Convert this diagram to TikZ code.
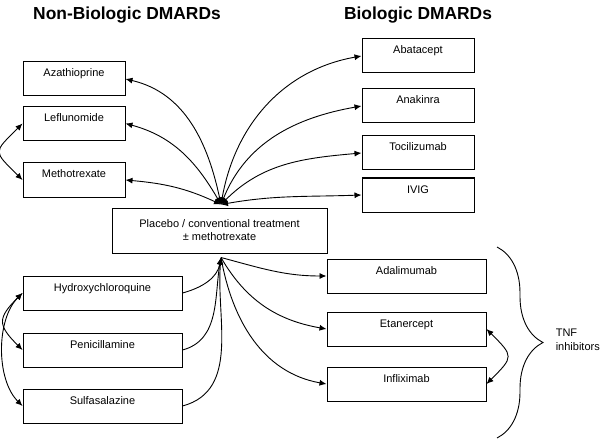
\documentclass[tikz,border=0pt]{standalone}
\usepackage{fontspec}
\setmainfont{Liberation Sans}
\usetikzlibrary{arrows.meta,positioning,decorations.pathreplacing,calc}
\tikzset{
  drug/.style  = { draw, line width=1pt, inner xsep=0pt, inner ysep=0pt,
    text height=15pt, text depth=19pt, minimum width=#1,
    font=\fontsize{11}{13}\selectfont },
  drug/.default = 102pt,
  ctrl/.style  = { draw, line width=1pt, align=center, inner sep=0pt,
    minimum width=215pt, minimum height=45pt, font=\fontsize{11}{13}\selectfont },
  grp/.style   = { font=\fontsize{17.4}{20}\selectfont\bfseries },
  tnfbrace/.style = { decorate, decoration={brace, amplitude=46pt}, line width=0.9pt }
}

\begin{document}
\begin{tikzpicture}[x=1pt,y=1pt,on grid,>={Latex[length=7pt,width=6pt]},line width=0.9pt]
    \useasboundingbox (0,0) rectangle (600,440);
    % group titles
    \node[grp] (nbio) at (127,425) {Non-Biologic DMARDs};
    \node[grp] (bio) at (418,425) {Biologic DMARDs};
    % comparator
    \node[ctrl] (plac) at (219.5,209.5) {Placebo / conventional treatment\\± methotrexate};
    \coordinate (hubT) at ([xshift=1.5pt,yshift=3pt]plac.north);
    \coordinate (hubB) at ([xshift=1.5pt,yshift=-4pt]plac.south);
    % non-biologic
    \node[drug] (aza) at (74,361) {Azathioprine};
    \node[drug, below=44.5pt of aza] (lef) {Leflunomide};
    \node[drug, below=56.5pt of lef] (met) {Methotrexate};
    \node[drug=159pt] (hyd) at (102.5,147) {Hydroxychloroquine};
    \node[drug=159pt, below=57pt of hyd] (pen) {Penicillamine};
    \node[drug=159pt, below=56pt of pen] (sul) {Sulfasalazine};
    % biologic
    \node[drug=112pt] (aba) at (418,384) {Abatacept};
    \node[drug=112pt, below=50pt of aba] (ana) {Anakinra};
    \node[drug=112pt, below=47pt of ana] (toc) {Tocilizumab};
    \node[drug=112pt, below=42pt of toc] (ivig) {IVIG};
    \node[drug=159pt] (ada) at (406.5,164) {Adalimumab};
    \node[drug=159pt, below=53pt of ada] (eta) {Etanercept};
    \node[drug=159pt, below=55pt of eta] (inf) {Infliximab};
    % comparisons with placebo
    \path[<->] (hubT) edge[out=102,in=-13] (aza.east)
                      edge[out=120,in=-15] (lef.east)
                      edge[out=155,in=-5] (met.east)
                      edge[out=80,in=190] (aba.west)
                      edge[out=68,in=190] (ana.west)
                      edge[out=45,in=185] (toc.west)
                      edge[out=10,in=182] (ivig.west);
    \path[->] (hyd.east) edge[out=15,in=-100] (hubB)
              (pen.east) edge[out=15,in=-100] (hubB)
              (sul.east) edge[out=15,in=-95] (hubB);
    \path[->] (hubB) edge[out=-15,in=180] (ada.west)
                     edge[out=-60,in=170] (eta.west)
                     edge[out=-80,in=170] (inf.west);
    % head-to-head
    \path[<->] (lef.west) edge[out=225,in=135,looseness=1.9] (met.west);
    \path[<->] (hyd.west) edge[out=225,in=135,looseness=1.6] (pen.west)
               (hyd.west) edge[out=225,in=135,looseness=0.85] (sul.west);
    \path[<->] (eta.east) edge[out=-45,in=45,looseness=1.8] (inf.east);
    % TNF group
    \coordinate (brT) at (497,193);
    \coordinate (brB) at (497,2);
    \draw[tnfbrace] (brT) -- (brB);
    \node[anchor=west, align=left, font=\fontsize{11}{14}\selectfont] (tnf) at (552,100) {TNF\\inhibitors};
\end{tikzpicture}
\end{document}
